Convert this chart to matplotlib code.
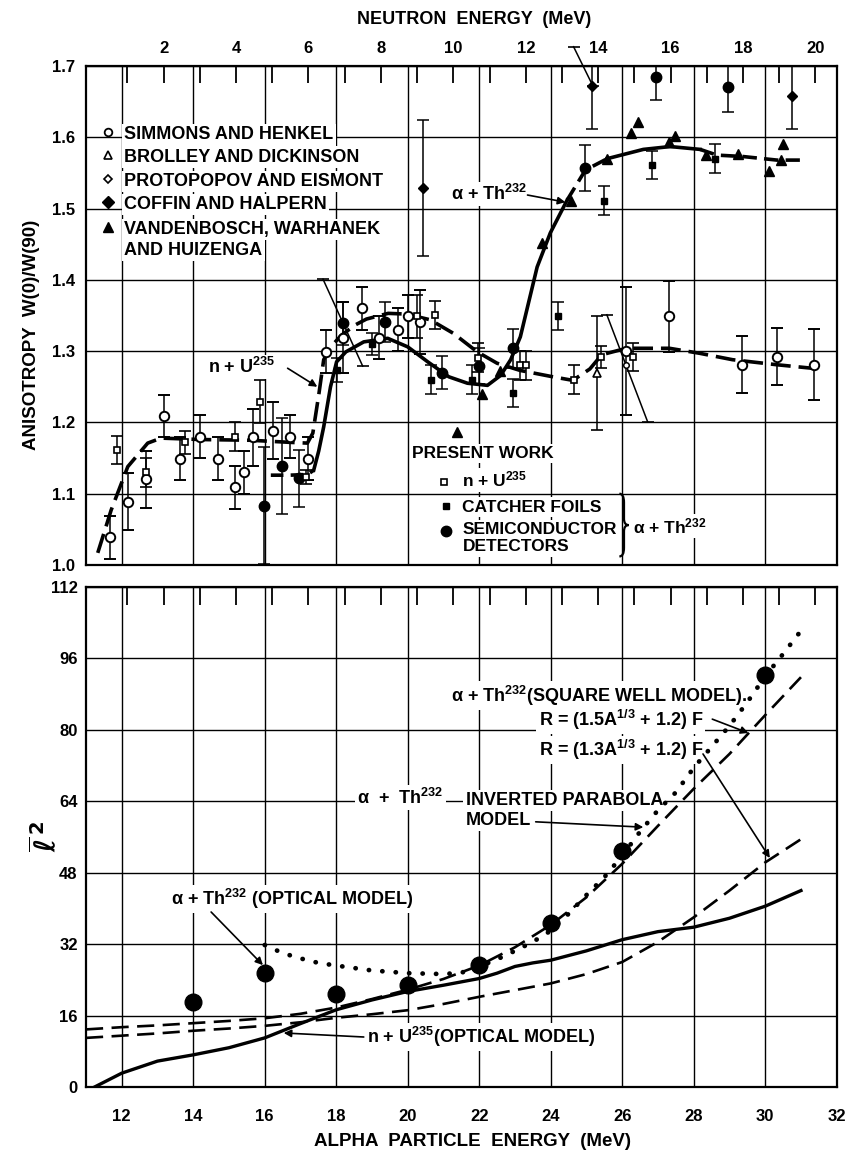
import matplotlib
matplotlib.use("Agg")
import matplotlib.pyplot as plt
from matplotlib.path import Path
from matplotlib.patches import PathPatch
from matplotlib.ticker import FixedLocator, FixedFormatter

plt.rcParams['font.family'] = ['Liberation Sans', 'DejaVu Sans']
plt.rcParams['font.weight'] = 'bold'
plt.rcParams['mathtext.fontset'] = 'custom'
plt.rcParams['mathtext.rm'] = 'Liberation Sans:bold'
plt.rcParams['mathtext.it'] = 'Liberation Sans:bold'
plt.rcParams['mathtext.bf'] = 'Liberation Sans:bold'
plt.rcParams['mathtext.default'] = 'rm'

# ---------------------------------------------------------------------------
# Upper panel: fission-fragment anisotropy
# neutron-induced data (n + U235) are given in neutron energy (MeV)
simmons_n = [0.52, 1.02, 1.50, 2.02, 2.46, 3.01, 3.50, 3.96, 4.22, 4.46, 5.01, 5.49, 5.98,
             6.47, 6.96, 7.48, 7.94, 8.46, 8.74, 9.07, 14.76, 15.96, 17.97, 18.93, 19.97]
simmons_w = [1.039, 1.089, 1.120, 1.209, 1.149, 1.180, 1.149, 1.109, 1.130, 1.179, 1.188, 1.180, 1.149,
             1.299, 1.319, 1.360, 1.319, 1.330, 1.349, 1.341, 1.300, 1.349, 1.281, 1.292, 1.281]
simmons_e = [0.03, 0.04, 0.04, 0.03, 0.03, 0.03, 0.03, 0.03, 0.03, 0.04, 0.04, 0.03, 0.03,
             0.03, 0.05, 0.03, 0.03, 0.03, 0.03, 0.045, 0.09, 0.05, 0.04, 0.04, 0.05]

present_nu_n = [0.71, 1.52, 2.60, 3.96, 4.66, 5.94, 8.99, 9.50, 10.69, 11.84, 12.00, 13.34, 14.09, 14.96]
present_nu_w = [1.161, 1.130, 1.172, 1.180, 1.229, 1.123, 1.349, 1.351, 1.291, 1.280, 1.280, 1.260, 1.292, 1.292]
present_nu_e = [0.02, 0.02, 0.016, 0.02, 0.03, 0.01, 0.03, 0.02, 0.02, 0.02, 0.02, 0.02, 0.015, 0.02]

brolley_n = [13.96]
brolley_w = [1.269]
brolley_e = [0.08]

protopopov_n = [14.76]
protopopov_w = [1.281]

coffin_n = [9.16, 13.84, 19.34]
coffin_w = [1.529, 1.672, 1.658]
coffin_e = [0.095, 0.06, 0.047]

# alpha-induced data (alpha + Th232) are given in alpha-particle energy (MeV)
vandenbosch_a = [21.37, 22.08, 22.57, 23.76, 24.57, 25.58, 26.25, 26.43, 27.31, 27.48,
                 28.34, 29.25, 30.12, 30.44, 30.51]
vandenbosch_w = [1.187, 1.240, 1.272, 1.452, 1.510, 1.570, 1.606, 1.622, 1.594, 1.602,
                 1.575, 1.577, 1.553, 1.568, 1.590]

catcher_a = [18.03, 19.01, 20.64, 21.79, 22.94, 24.20, 25.48, 26.83, 28.60]
catcher_w = [1.274, 1.310, 1.260, 1.260, 1.241, 1.349, 1.511, 1.561, 1.570]
catcher_e = [0.017, 0.015, 0.02, 0.02, 0.02, 0.02, 0.02, 0.02, 0.02]

semicond_a = [15.98, 16.47, 16.96, 18.20, 19.36, 20.97, 21.99, 22.94, 24.97, 26.94, 28.97]
semicond_w = [1.083, 1.139, 1.122, 1.339, 1.341, 1.270, 1.279, 1.304, 1.557, 1.685, 1.671]
semicond_e = [0.082, 0.067, 0.04, 0.03, 0.028, 0.023, 0.025, 0.027, 0.032, 0.033, 0.035]

# hand-drawn trend curves
nu_curve_n = [0.18, 0.55, 1.01, 1.56, 1.93, 3.03, 4.40, 5.51, 5.97, 6.12, 6.29, 6.42, 6.60, 6.90,
              7.30, 7.60, 8.20, 8.70, 9.36, 10.00, 10.66, 11.21, 11.84, 12.75, 13.30, 13.77, 14.10,
              14.78, 15.97, 16.80, 17.71, 18.92, 19.91]
nu_curve_w = [1.017, 1.077, 1.138, 1.171, 1.178, 1.176, 1.175, 1.172, 1.171, 1.185, 1.241, 1.288,
              1.305, 1.322, 1.337, 1.345, 1.353, 1.352, 1.344, 1.325, 1.299, 1.283, 1.273, 1.264,
              1.259, 1.275, 1.295, 1.304, 1.304, 1.297, 1.288, 1.281, 1.276]

th_curve_a = [16.17, 16.70, 17.20, 17.37, 17.51, 17.65, 17.84, 18.01, 18.27, 18.77, 19.44, 20.00,
              20.56, 21.15, 21.67, 22.23, 22.60, 22.88, 23.15, 23.62, 23.99, 24.46, 24.97, 25.58,
              26.59, 27.34, 28.18, 28.65, 29.38, 30.33, 30.97]
th_curve_w = [1.126, 1.126, 1.127, 1.133, 1.160, 1.194, 1.250, 1.285, 1.299, 1.313, 1.318, 1.306,
              1.285, 1.264, 1.255, 1.252, 1.266, 1.288, 1.320, 1.418, 1.466, 1.512, 1.554, 1.570,
              1.583, 1.587, 1.583, 1.575, 1.573, 1.568, 1.568]

# slanted error bars (alpha energy, anisotropy) at both ends
slant_bars = [((17.63, 1.401), (18.74, 1.279)),
              ((25.57, 1.351), (26.71, 1.201)),
              ((24.64, 1.727), (25.18, 1.672))]

# ---------------------------------------------------------------------------
# Lower panel: mean square angular momentum
l2_points_a = [14, 16, 18, 20, 22, 24, 26, 30]
l2_points_v = [19.0, 25.5, 20.8, 22.9, 27.3, 36.7, 52.9, 92.3]

nu_optical_a = [11.24, 12, 13, 14, 15, 16, 17, 18, 19, 20, 21, 22, 22.5, 23, 23.5, 24,
                25, 26, 27, 28, 29, 30, 31]
nu_optical_v = [0.0, 3.1, 5.8, 7.2, 8.8, 11.0, 14.2, 17.3, 19.5, 21.4, 22.8, 24.3, 25.5, 27.0,
                27.8, 28.4, 30.5, 33.0, 34.8, 35.8, 37.8, 40.5, 44.0]

sqwell15_a = [11, 12, 13, 14, 15, 16, 17, 18, 19, 20, 21, 22, 23, 24, 25, 26, 27, 28, 29, 30, 31]
sqwell15_v = [12.9, 13.4, 13.8, 14.3, 14.8, 15.4, 16.4, 17.8, 19.7, 21.8, 24.2, 27.2, 31.3,
              36.3, 42.5, 50.0, 58.5, 66.8, 74.6, 83.3, 91.8]

sqwell13_a = [11, 12, 13, 14, 15, 16, 17, 18, 19, 20, 21, 22, 23, 24, 25, 26, 27, 28, 29, 30, 31]
sqwell13_v = [11.0, 11.5, 12.0, 12.6, 13.1, 13.7, 14.5, 15.5, 16.3, 17.2, 18.6, 20.2, 21.7,
              23.2, 25.3, 28.0, 32.5, 38.0, 44.0, 50.3, 55.5]

th_model_a = [16, 16.5, 17, 17.5, 18, 19, 20, 21, 21.5, 22, 22.5, 23, 23.5, 24, 24.5, 25, 25.5,
              26, 26.5, 27, 27.5, 28, 28.5, 29, 29.5, 30, 30.5, 31]
th_model_v = [31.8, 30.0, 28.8, 27.8, 27.2, 26.1, 25.5, 25.3, 25.6, 27.0, 28.6, 30.5, 32.5, 35.0,
              38.8, 43.0, 47.0, 51.8, 57.2, 62.0, 66.0, 71.5, 76.2, 80.9, 86.2, 92.0, 97.0, 102.2]

# axis ticks
alpha_ticks = list(range(12, 33, 2))
neutron_major = list(range(2, 21, 2))
neutron_minor = list(range(1, 20, 2))
aniso_ticks = [1.0, 1.1, 1.2, 1.3, 1.4, 1.5, 1.6, 1.7]
l2_ticks = [0, 16, 32, 48, 64, 80, 96, 112]


def alpha_to_neutron(a):
    return 0.98723 * a - 11.004


# ---------------------------------------------------------------------------
W, H = 846, 1153
fig = plt.figure(figsize=(W / 100, H / 100), dpi=100)


def fx(px):
    return px / W


def fy(py):
    return 1 - py / H


ax1 = fig.add_axes([fx(86), fy(565), (836.7 - 86) / W, (565 - 66) / H])
ax2 = fig.add_axes([fx(86), fy(1087), (836.7 - 86) / W, (1087 - 587) / H])

for ax in (ax1, ax2):
    ax.set_xlim(11, 32)
    for s in ax.spines.values():
        s.set_linewidth(1.6)
    ax.set_xticks(alpha_ticks)
    ax.grid(True, color='black', linewidth=1.0)
    ax.set_axisbelow(True)

ax1.set_ylim(1.0, 1.7)
ax1.set_yticks(aniso_ticks)
ax1.set_yticklabels([f"{v:.1f}" for v in aniso_ticks])
ax1.tick_params(axis='both', length=0, labelsize=12, pad=8)
ax1.tick_params(axis='x', labelbottom=False)

ax2.set_ylim(0, 112)
ax2.set_yticks(l2_ticks)
ax2.tick_params(axis='both', length=0, labelsize=12)
ax2.tick_params(axis='x', pad=16)
ax2.tick_params(axis='y', pad=6)

# neutron-energy scales along the top of both panels
axn = ax1.twiny()
axn.set_xlim(alpha_to_neutron(11), alpha_to_neutron(32))
axn.xaxis.set_major_locator(FixedLocator(neutron_major))
axn.xaxis.set_major_formatter(FixedFormatter([str(v) for v in neutron_major]))
axn.xaxis.set_minor_locator(FixedLocator(neutron_minor))
axn.tick_params(which='both', direction='in', length=12, width=1.3, labelsize=12, pad=7)

axn2 = ax2.twiny()
axn2.set_xlim(alpha_to_neutron(11), alpha_to_neutron(32))
axn2.xaxis.set_major_locator(FixedLocator(neutron_major))
axn2.xaxis.set_minor_locator(FixedLocator(neutron_minor))
axn2.tick_params(which='both', direction='in', length=13, width=1.3, labeltop=False)
for a in (axn, axn2):
    for s in a.spines.values():
        s.set_visible(False)

# white box behind lettering so the grid is broken around it;
# lettering sits above the grid but below the curves
box = dict(facecolor='white', edgecolor='none', pad=1.5)
TZ = 1.5

# ---------------------------------------------------------------------------
# upper panel curves
axn.plot(nu_curve_n, nu_curve_w, color='black', lw=2.6, dashes=(5.5, 2.2), zorder=2)
segments = [(0, 4, (3.5, 2.0)), (3, 22, None), (21, 24, (4.0, 2.0)), (23, 27, None), (26, 31, (4.0, 2.0))]
for i0, i1, dash in segments:
    if dash is None:
        ax1.plot(th_curve_a[i0:i1], th_curve_w[i0:i1], color='black', lw=2.6, zorder=2)
    else:
        ax1.plot(th_curve_a[i0:i1], th_curve_w[i0:i1], color='black', lw=2.6, dashes=dash, zorder=2)

for (x0, y0), (x1, y1) in slant_bars:
    ax1.plot([x0, x1], [y0, y1], color='black', lw=1.1, clip_on=False, zorder=2)
    ax1.plot([x0, x1], [y0, y1], ls='none', marker='_', ms=9, mew=1.2, color='black', clip_on=False)

eb = dict(ecolor='black', elinewidth=1.1, capsize=4.3, capthick=1.1, ls='none', zorder=3)
axn.errorbar(simmons_n, simmons_w, yerr=simmons_e, marker='o', ms=6.8, mfc='white', mec='black', mew=1.4, **eb)
axn.errorbar(present_nu_n, present_nu_w, yerr=present_nu_e, marker='s', ms=4.2, mfc='white', mec='black', mew=1.2, **eb)
axn.errorbar(brolley_n, brolley_w, yerr=brolley_e, marker='^', ms=6.0, mfc='white', mec='black', mew=1.2, **eb)
axn.plot(protopopov_n, protopopov_w, ls='none', marker='o', ms=4.0, mfc='white', mec='black', mew=1.1, zorder=4)
axn.errorbar(coffin_n, coffin_w, yerr=coffin_e, marker='D', ms=5.0, mfc='black', mec='black', **eb)
ax1.errorbar(catcher_a, catcher_w, yerr=catcher_e, marker='s', ms=4.5, mfc='black', mec='black', **eb)
ax1.errorbar(semicond_a, semicond_w, yerr=semicond_e, marker='o', ms=7.5, mfc='black', mec='black', **eb)
ax1.plot(vandenbosch_a, vandenbosch_w, ls='none', marker='^', ms=6.5, color='black', zorder=3)

# legend of references
leg_x_marker, leg_x_text = 11.61, 12.07
leg_rows = [('SIMMONS AND HENKEL', 1.597, dict(marker='o', ms=5.5, mfc='white', mec='black', mew=1.3)),
            ('BROLLEY AND DICKINSON', 1.566, dict(marker='^', ms=5.5, mfc='white', mec='black', mew=1.2)),
            ('PROTOPOPOV AND EISMONT', 1.532, dict(marker='D', ms=4.5, mfc='white', mec='black', mew=1.2)),
            ('COFFIN AND HALPERN', 1.499, dict(marker='D', ms=6.0, mfc='black', mec='black')),
            ('VANDENBOSCH, WARHANEK', 1.464, dict(marker='^', ms=7.0, mfc='black', mec='black'))]
for label, yb, mk in leg_rows:
    ax1.text(leg_x_text, yb, label, fontsize=13, va='baseline', ha='left', bbox=box, zorder=TZ)
    ax1.plot([leg_x_marker], [yb + 0.0098], ls='none', zorder=5, **mk)
ax1.text(leg_x_text, 1.435, 'AND HUIZENGA', fontsize=13, va='baseline', ha='left', bbox=box, zorder=TZ)

# present-work key
ax1.text(20.13, 1.150, 'PRESENT WORK', fontsize=12.5, va='baseline', bbox=box, zorder=TZ)
ax1.text(21.53, 1.110, r'n + U$^{235}$', fontsize=12.5, va='baseline', bbox=box, zorder=TZ)
ax1.text(21.53, 1.075, 'CATCHER FOILS', fontsize=12.5, va='baseline', bbox=box, zorder=TZ)
ax1.text(21.53, 1.043, 'SEMICONDUCTOR', fontsize=12.5, va='baseline', bbox=box, zorder=TZ)
ax1.text(21.53, 1.019, 'DETECTORS', fontsize=12.5, va='baseline', bbox=box, zorder=TZ)
ax1.plot([21.01], [1.117], ls='none', marker='s', ms=4.2, mfc='white', mec='black', mew=1.2, zorder=5)
ax1.plot([21.06], [1.083], ls='none', marker='s', ms=4.5, color='black', zorder=5)
ax1.plot([21.06], [1.047], ls='none', marker='o', ms=7.5, color='black', zorder=5)


def curly_brace(ax, x, y0, y1, w, lw=1.6):
    ym, h = (y0 + y1) / 2, y1 - y0
    xm = x + w / 2
    verts = [(x, y1), (xm, y1), (xm, y1 - 0.14 * h),
             (xm, ym + 0.10 * h),
             (xm, ym), (x + w, ym),
             (xm, ym), (xm, ym - 0.10 * h),
             (xm, y0 + 0.14 * h),
             (xm, y0), (x, y0)]
    codes = [Path.MOVETO, Path.CURVE3, Path.CURVE3, Path.LINETO, Path.CURVE3, Path.CURVE3,
             Path.CURVE3, Path.CURVE3, Path.LINETO, Path.CURVE3, Path.CURVE3]
    ax.add_patch(PathPatch(Path(verts, codes), fill=False, lw=lw, edgecolor='black', zorder=5))


curly_brace(ax1, 25.92, 1.012, 1.100, 0.26)
ax1.text(26.30, 1.045, r'$\alpha$ + Th$^{232}$', fontsize=12.5, va='baseline', bbox=box, zorder=TZ)

arrow = dict(arrowstyle='-|>', color='black', lw=1.2, mutation_scale=11, shrinkA=0, shrinkB=0)
ax1.text(14.40, 1.269, r'n + U$^{235}$', fontsize=13, va='baseline', bbox=box, zorder=TZ)
ax1.annotate('', xy=(17.47, 1.250), xytext=(16.64, 1.276), arrowprops=arrow, zorder=5)
ax1.text(21.20, 1.512, r'$\alpha$ + Th$^{232}$', fontsize=13, va='baseline', bbox=box, zorder=TZ)
ax1.annotate('', xy=(24.41, 1.509), xytext=(23.35, 1.519), arrowprops=arrow, zorder=5)

# ---------------------------------------------------------------------------
# lower panel
ax2.plot(nu_optical_a, nu_optical_v, color='black', lw=2.4, zorder=2)
ax2.plot(sqwell15_a, sqwell15_v, color='black', lw=1.9, dashes=(6.5, 3.2), zorder=2)
ax2.plot(sqwell13_a, sqwell13_v, color='black', lw=1.9, dashes=(6.5, 3.2), zorder=2)
ax2.plot(th_model_a, th_model_v, color='black', lw=3.4, dashes=(0.05, 2.8),
         dash_capstyle='round', zorder=2)
ax2.plot(l2_points_a, l2_points_v, ls='none', marker='o', ms=12, color='black', zorder=3)

ax2.text(21.20, 86.3, r'$\alpha$ + Th$^{232}$(SQUARE WELL MODEL).', fontsize=13, va='baseline', bbox=box, zorder=TZ)
ax2.text(23.66, 80.8, r'R = (1.5A$^{1/3}$ + 1.2) F', fontsize=13, va='baseline', bbox=box, zorder=TZ)
ax2.text(23.66, 74.1, r'R = (1.3A$^{1/3}$ + 1.2) F', fontsize=13, va='baseline', bbox=box, zorder=TZ)
ax2.annotate('', xy=(29.53, 79.3), xytext=(28.52, 82.4), arrowprops=arrow, zorder=5)
ax2.annotate('', xy=(30.13, 51.3), xytext=(28.26, 74.6), arrowprops=arrow, zorder=5)

ax2.text(18.59, 63.5, r'$\alpha$  +  Th$^{232}$', fontsize=13, va='baseline', bbox=box, zorder=TZ)
ax2.text(21.62, 63.2, 'INVERTED PARABOLA', fontsize=13, va='baseline', bbox=box, zorder=TZ)
ax2.text(21.62, 58.7, 'MODEL', fontsize=13, va='baseline', bbox=box, zorder=TZ)
ax2.annotate('', xy=(26.59, 58.2), xytext=(23.58, 59.4), arrowprops=arrow, zorder=5)

ax2.text(13.38, 40.8, r'$\alpha$ + Th$^{232}$ (OPTICAL MODEL)', fontsize=13, va='baseline', bbox=box, zorder=TZ)
ax2.annotate('', xy=(15.95, 27.3), xytext=(14.50, 39.2), arrowprops=arrow, zorder=5)

ax2.text(18.87, 9.8, r'n + U$^{235}$(OPTICAL MODEL)', fontsize=13, va='baseline', bbox=box, zorder=TZ)
ax2.annotate('', xy=(16.53, 12.1), xytext=(18.77, 11.2), arrowprops=arrow, zorder=5)

# axis titles
fig.text(fx(474), fy(24), 'NEUTRON  ENERGY  (MeV)', ha='center', va='baseline', fontsize=13)
fig.text(fx(472), fy(1146), 'ALPHA  PARTICLE  ENERGY  (MeV)', ha='center', va='baseline', fontsize=13.5)
fig.text(fx(32), fy(335), 'ANISOTROPY  W(0)/W(90)', rotation=90, ha='center', va='center', fontsize=13.5)
fig.text(fx(46), fy(837), r'$\overline{\ell}^{\,2}$', rotation=90, ha='center', va='center',
         fontsize=20, math_fontfamily='dejavusans')

fig.savefig('out.png', dpi=100, facecolor='white')
